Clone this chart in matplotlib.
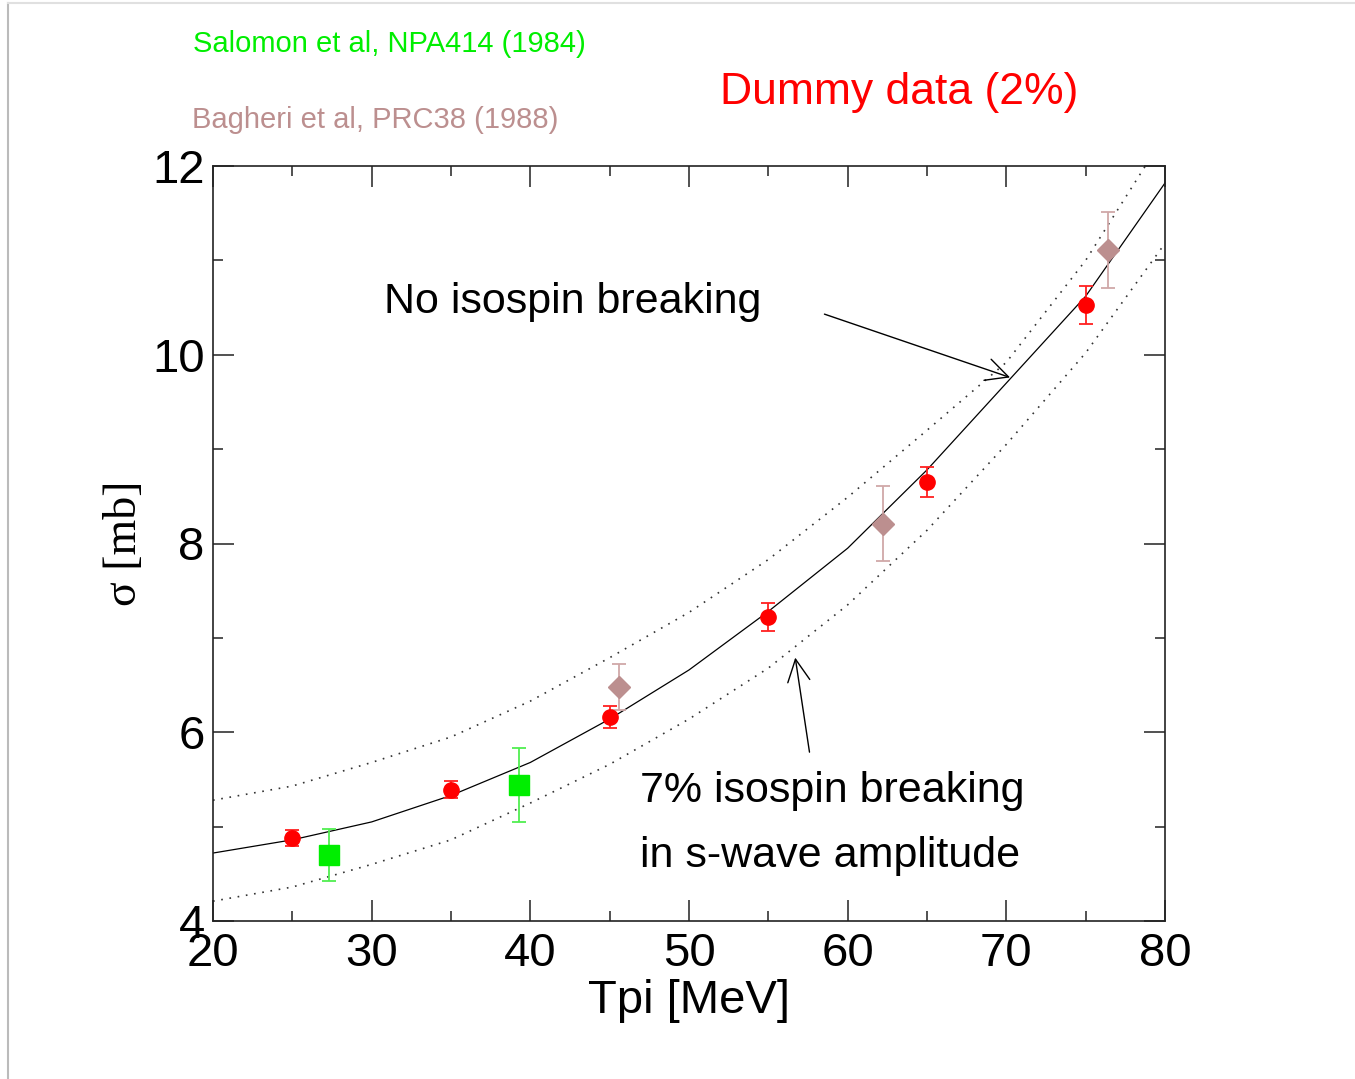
import matplotlib.pyplot as plt
from matplotlib.lines import Line2D

# theory curves
t_curve = [20, 25, 30, 35, 40, 45, 50, 55, 60, 65, 70, 75, 80]
sig_nobreak = [4.72, 4.86, 5.05, 5.33, 5.68, 6.14, 6.66, 7.28, 7.95, 8.78,
               9.70, 10.62, 11.82]
sig_upper = [5.28, 5.43, 5.68, 5.95, 6.33, 6.79, 7.27, 7.83, 8.49, 9.20,
             9.92, 11.00, 12.33]
sig_lower = [4.21, 4.36, 4.60, 4.86, 5.25, 5.66, 6.14, 6.68, 7.35, 8.14,
             9.05, 10.02, 11.18]

# dummy data (2%)
t_dummy = [25, 35, 45, 55, 65, 75]
sig_dummy = [4.88, 5.39, 6.16, 7.22, 8.65, 10.53]
err_dummy = [0.08, 0.09, 0.12, 0.15, 0.16, 0.20]

# Salomon et al
t_sal = [27.3, 39.3]
sig_sal = [4.70, 5.44]
err_sal = [0.28, 0.39]

# Bagheri et al
t_bag = [45.6, 62.2, 76.4]
sig_bag = [6.48, 8.21, 11.11]
err_bag = [0.24, 0.40, 0.40]

W, H = 1355, 1079
plt.rcParams['font.family'] = "Liberation Sans"

fig = plt.figure(figsize=(W / 100, H / 100), dpi=100)
ax = fig.add_axes([213 / W, 1 - 921 / H, (1165 - 213) / W, (921 - 166) / H])

ax.plot(t_curve, sig_nobreak, color="black", lw=0.9, zorder=2)
ax.plot(t_curve, sig_upper, color="#333333", lw=1.2, ls=(0, (1, 4)), zorder=2)
ax.plot(t_curve, sig_lower, color="#333333", lw=1.2, ls=(0, (1, 4)), zorder=2)

ax.errorbar(t_dummy, sig_dummy, yerr=err_dummy, fmt="o", color="#ff0000",
            ms=11, ecolor="#ff2020", elinewidth=1.3, capsize=5, capthick=1.3,
            zorder=4)
ax.errorbar(t_sal, sig_sal, yerr=err_sal, fmt="s", color="#00ee00",
            ms=14, ecolor="#50ee50", elinewidth=1.3, capsize=4.7,
            capthick=1.3, zorder=4)
ax.errorbar(t_bag, sig_bag, yerr=err_bag, fmt="D", color="#bc8f8f",
            ms=11, ecolor="#d0a8a8", elinewidth=1.3, capsize=4.7,
            capthick=1.3, zorder=4)

ax.set_xlim(20, 80)
ax.set_ylim(4, 12)
ax.set_xticks([20, 30, 40, 50, 60, 70, 80])
ax.set_xticks([25, 35, 45, 55, 65, 75], minor=True)
ax.set_yticks([4, 6, 8, 10, 12])
ax.set_yticks([5, 7, 9, 11], minor=True)
ax.tick_params(which="both", direction="in", top=True, right=True,
               color="#333333", width=1.2, labelsize=34)
ax.tick_params(which="major", length=15)
ax.tick_params(which="minor", length=7.5)
ax.tick_params(axis="x", pad=8)
ax.tick_params(axis="y", pad=6)
for s in ax.spines.values():
    s.set_linewidth(1.2)
    s.set_color("#222222")

ax.set_xlabel("Tpi [MeV]", fontsize=34, labelpad=2)
ax.set_ylabel("σ [mb]", fontsize=33, family="Liberation Serif", labelpad=4)

# annotations
ax.text(30.78, 10.44, "No isospin breaking", fontsize=31, va="baseline")
ax.annotate("", xy=(70.4, 9.75), xytext=(58.37, 10.44),
            arrowprops=dict(arrowstyle="->", lw=1.0, color="black",
                            mutation_scale=40))
ax.text(46.9, 5.26, "7% isospin breaking", fontsize=31, va="baseline")
ax.text(46.9, 4.57, "in s-wave amplitude", fontsize=31, va="baseline")
ax.annotate("", xy=(56.67, 6.82), xytext=(57.62, 5.76),
            arrowprops=dict(arrowstyle="->", lw=1.0, color="black",
                            mutation_scale=40))

fig.text(193 / W, 1 - 52 / H, "Salomon et al, NPA414 (1984)", fontsize=21,
         color="#00ee00", va="baseline")
fig.text(192 / W, 1 - 128 / H, "Bagheri et al, PRC38 (1988)", fontsize=21,
         color="#bc8f8f", va="baseline")
fig.text(720 / W, 1 - 104 / H, "Dummy data (2%)", fontsize=32,
         color="#ff0000", va="baseline")

# slide border
fig.add_artist(Line2D([8 / W, 8 / W], [0, 1 - 3 / H], color="#bbbbbb",
                      lw=1.5))
fig.add_artist(Line2D([8 / W, 1], [1 - 3 / H, 1 - 3 / H], color="#e0e0e0",
                      lw=1.5))

fig.savefig("out.png", dpi=100)
